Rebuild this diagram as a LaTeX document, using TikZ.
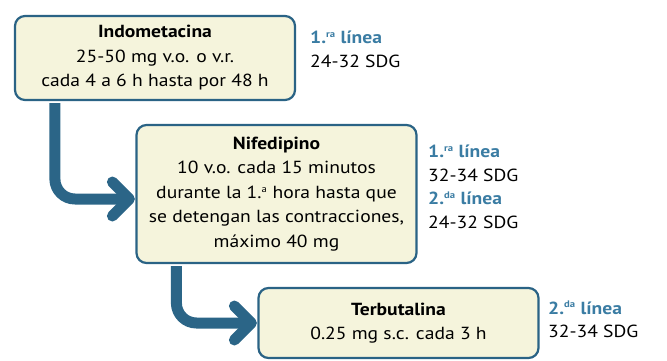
\documentclass[tikz,border=0pt]{standalone}
\usepackage{fontspec}
\setmainfont[FakeStretch=1.12]{PT Sans}
\usetikzlibrary{calc}
\definecolor{boxborder}{HTML}{2A6385}
\definecolor{boxfill}{HTML}{F5F4DC}
\definecolor{flowblue}{HTML}{2B6587}
\definecolor{labelblue}{HTML}{3A7CA3}
\newcommand{\sups}[1]{\textsuperscript{\fontsize{9.5}{9.5}\selectfont #1}}
\begin{document}
\begin{tikzpicture}[x=1pt,y=-1pt,
  drugbox/.style={draw=boxborder, line width=2.2pt, fill=boxfill, rounded corners=10pt,
    minimum width=280pt, align=center, inner sep=0pt,
    font=\fontsize{17.5}{24.5}\selectfont},
  flow/.style={draw=flowblue, line width=11pt, line join=round, line cap=round},
  sidelabel/.style={anchor=north west, align=left, inner sep=0pt,
    font=\fontsize{17.5}{23.5}\selectfont}]
\useasboundingbox (0,0) rectangle (667,360);
\node[drugbox, minimum height=84pt] (b1) at (155,58)
  {\textbf{Indometacina}\\25-50 mg v.o. o v.r.\\cada 4 a 6 h hasta por 48 h};
\node[drugbox, minimum height=138pt] (b2) at (276.5,194)
  {\textbf{Nifedipino}\\10 v.o. cada 15 minutos\\durante la 1.\sups{a} hora hasta que\\se detengan las contracciones,\\máximo 40 mg};
\node[drugbox, minimum height=70pt] (b3) at (398.5,323)
  {\textbf{Terbutalina}\\0.25 mg s.c. cada 3 h};
\node[sidelabel] (l1) at (310,31)
  {\textcolor{labelblue}{\textbf{1.\sups{ra} línea}}\\24-32 SDG};
\node[sidelabel] (l2) at (428,145)
  {\textcolor{labelblue}{\textbf{1.\sups{ra} línea}}\\32-34 SDG\\\textcolor{labelblue}{\textbf{2.\sups{da} línea}}\\24-32 SDG};
\node[sidelabel] (l3) at (548,301)
  {\textcolor{labelblue}{\textbf{2.\sups{da} línea}}\\32-34 SDG};
% connector 1
\coordinate (s1) at ($(b1.south west)+(41,2)$);
\coordinate (t1) at ($(b2.west)+(-6,5)$);
\draw[flow, line cap=butt, rounded corners=20pt] (s1) |- (t1);
\draw[flow] ($(t1)+(-17,-17)$) -- (t1) -- ++(-17,17);
% connector 2
\coordinate (s2) at ($(b2.south west)+(41,2)$);
\coordinate (t2) at ($(b3.west)+(-6,0)$);
\draw[flow, line cap=butt, rounded corners=20pt] (s2) |- (t2);
\draw[flow] ($(t2)+(-17,-17)$) -- (t2) -- ++(-17,17);
\end{tikzpicture}
\end{document}
